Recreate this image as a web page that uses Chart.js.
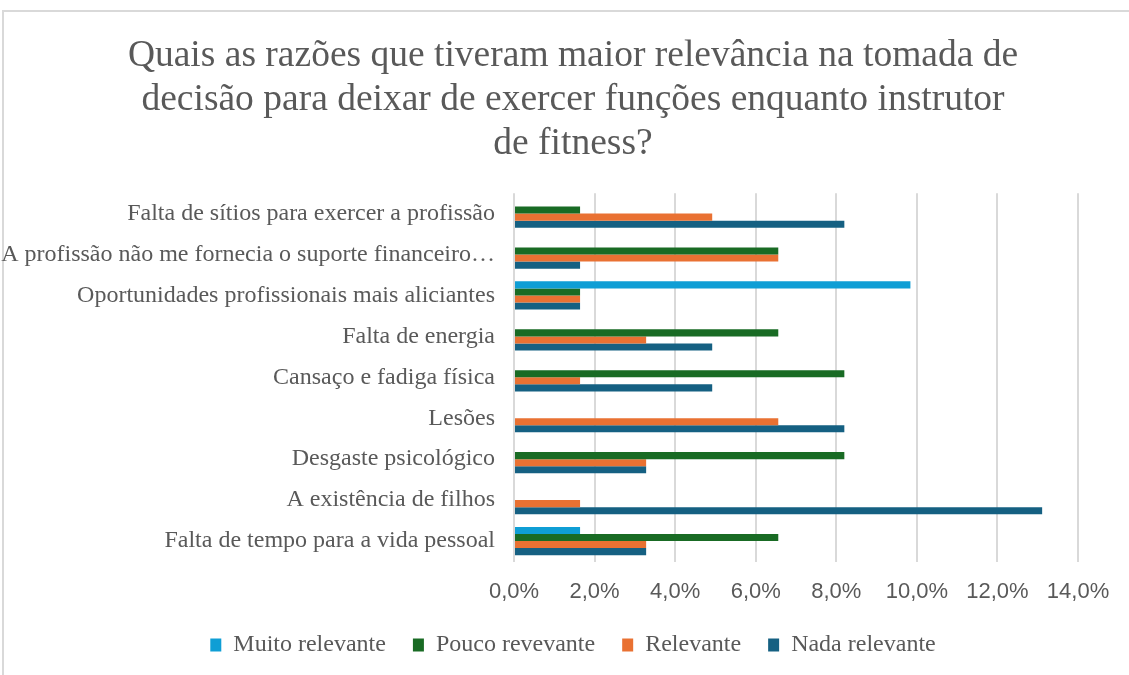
<!DOCTYPE html>
<html>
<head>
<meta charset="utf-8">
<script src="https://cdn.jsdelivr.net/npm/chart.js@4.4.1/dist/chart.umd.min.js"></script>
<style>
  html, body { margin: 0; padding: 0; background: #fff; overflow: hidden; }
  #frame { position: absolute; left: 2px; top: 10px; width: 1200px; height: 720px; border: 2px solid #d9d9d9; box-sizing: border-box; }
  #wrap { position: absolute; left: 0; top: 0; width: 1146px; height: 675px; }
</style>
</head>
<body>
<div id="frame"></div>
<div id="wrap"><canvas id="chart" width="1146" height="675"></canvas></div>
<script>
const categories = [
  'Falta de sítios para exercer a profissão',
  'A profissão não me fornecia o suporte financeiro…',
  'Oportunidades profissionais mais aliciantes',
  'Falta de energia',
  'Cansaço e fadiga física',
  'Lesões',
  'Desgaste psicológico',
  'A existência de filhos',
  'Falta de tempo para a vida pessoal'
];

// percentages, one value per category (top to bottom)
const muitoRelevante = [0, 0, 9.84, 0, 0, 0, 0, 0, 1.64];
const poucoRevevante = [1.64, 6.56, 1.64, 6.56, 8.2, 0, 8.2, 0, 6.56];
const relevante = [4.92, 6.56, 1.64, 3.28, 1.64, 6.56, 3.28, 1.64, 3.28];
const nadaRelevante = [8.2, 1.64, 1.64, 4.92, 4.92, 8.2, 3.28, 13.11, 3.28];

const seriesNames = ['Muito relevante', 'Pouco revevante', 'Relevante', 'Nada relevante'];
const colors = ['#0F9ED5', '#196B24', '#E97132', '#156082'];

const titleLines = [
  'Quais as razões que tiveram maior relevância na tomada de',
  'decisão para deixar de exercer funções enquanto instrutor',
  'de fitness?'
];

const gray = '#595959';
const serif = "'Liberation Serif', 'Times New Roman', serif";
const sans = "'Liberation Sans', Arial, sans-serif";

const values = [muitoRelevante, poucoRevevante, relevante, nadaRelevante];

const ctx = document.getElementById('chart').getContext('2d');
new Chart(ctx, {
  type: 'bar',
  data: {
    labels: categories,
    datasets: seriesNames.map((name, i) => ({
      label: name,
      data: values[i],
      backgroundColor: colors[i],
      borderWidth: 0,
      barPercentage: 1,
      categoryPercentage: 0.69
    }))
  },
  options: {
    indexAxis: 'y',
    responsive: false,
    animation: false,
    layout: { padding: { top: 12, right: 0, bottom: 8, left: 0 } },
    plugins: {
      title: {
        display: true,
        text: titleLines,
        color: gray,
        font: { family: serif, size: 37.5, weight: 'normal', lineHeight: 1.17 },
        padding: { top: 22, bottom: 27.5 }
      },
      legend: {
        position: 'bottom',
        labels: {
          color: gray,
          font: { family: serif, size: 24 },
          boxWidth: 11,
          boxHeight: 13,
          padding: 27
        }
      },
      tooltip: { enabled: false }
    },
    scales: {
      x: {
        min: 0,
        max: 14,
        ticks: {
          stepSize: 2,
          color: gray,
          font: { family: sans, size: 22 },
          padding: 17,
          callback: (v) => v.toFixed(1).replace('.', ',') + '%'
        },
        grid: { color: '#d9d9d9', lineWidth: 2, drawTicks: false },
        border: { display: false },
        afterFit: (scale) => { scale.height = 44.5; }
      },
      y: {
        ticks: {
          color: gray,
          font: { family: serif, size: 24 },
          padding: 19,
          autoSkip: false
        },
        grid: { display: false, drawTicks: false },
        border: { display: false },
        afterFit: (scale) => { scale.width = 514; }
      },
      yRight: {
        type: 'linear',
        axis: 'y',
        position: 'right',
        ticks: { display: false },
        grid: { display: false, drawTicks: false },
        border: { display: false },
        afterFit: (scale) => { scale.width = 68; }
      }
    }
  }
});
</script>
</body>
</html>
